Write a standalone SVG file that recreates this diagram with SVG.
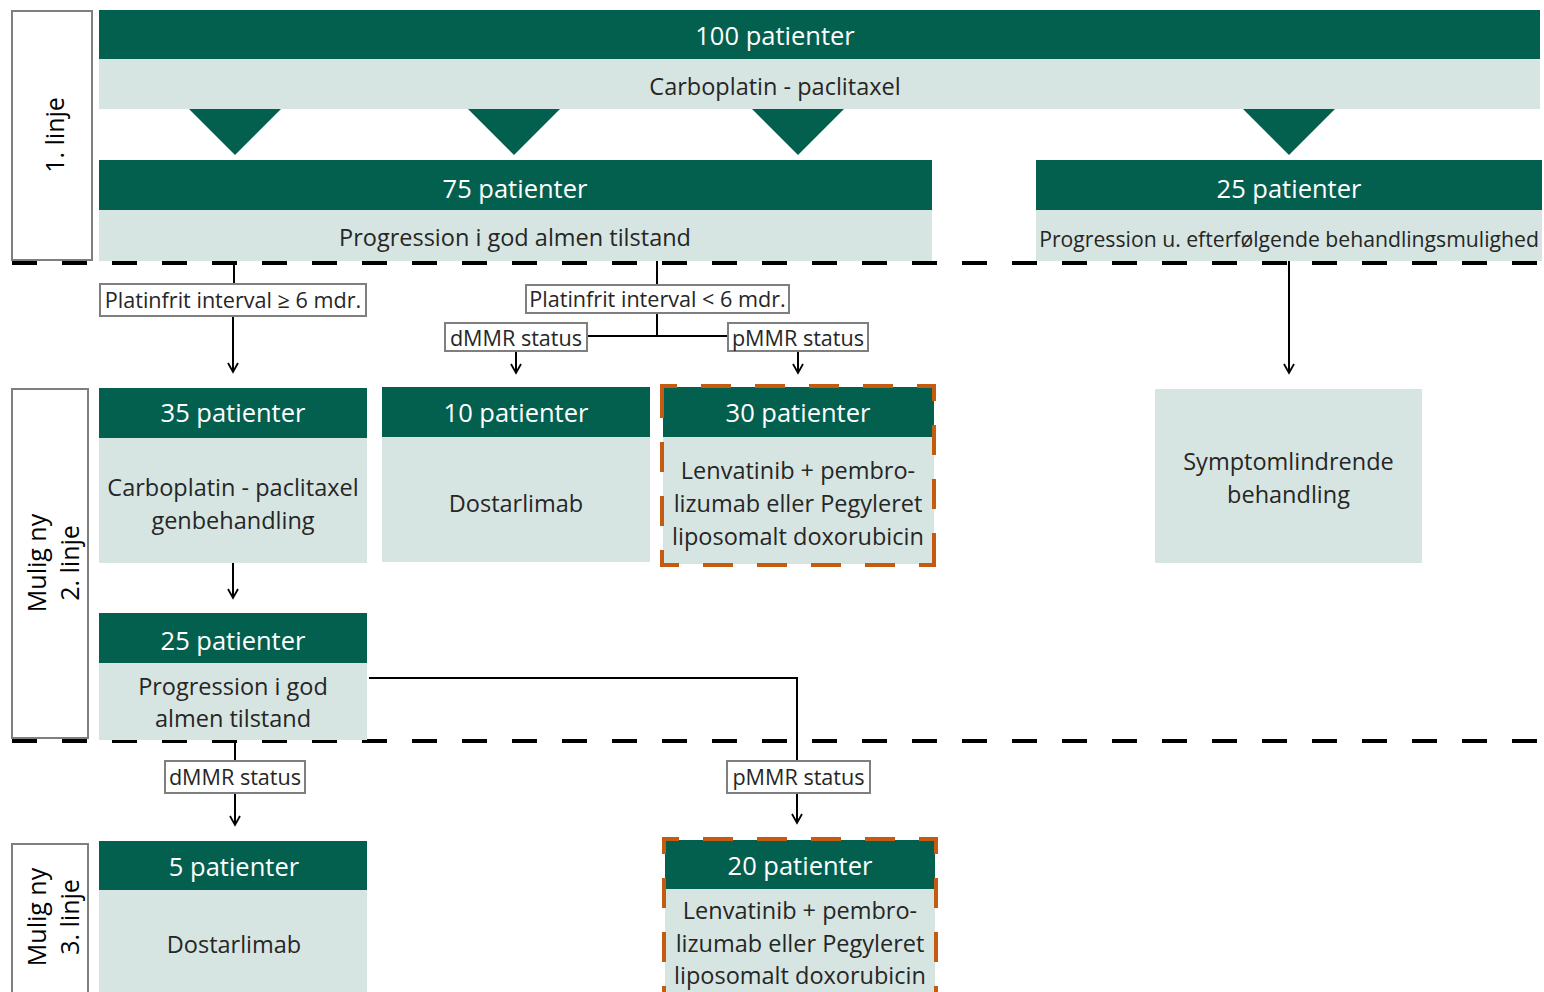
<svg xmlns="http://www.w3.org/2000/svg" width="1544" height="992" viewBox="0 0 1544 992">
<defs>
<style>
.dk{fill:#03604F}
.lt{fill:#D6E5E1}
.hd{font-family:"Open Sans","Noto Sans",sans-serif;font-size:25.5px;fill:#FFFFFF;text-anchor:middle}
.bd{font-family:"Open Sans","Noto Sans",sans-serif;font-size:23.5px;fill:#262626;text-anchor:middle}
.lb{font-family:"Open Sans","Noto Sans",sans-serif;font-size:21.6px;fill:#262626;text-anchor:middle}
.side{font-family:"Open Sans","Noto Sans",sans-serif;font-size:25px;fill:#000000;text-anchor:middle}
.sbox{fill:#FFFFFF;stroke:#7F7F7F;stroke-width:2}
.lbox{fill:#FFFFFF;stroke:#7F7F7F;stroke-width:2}
.ln{fill:none;stroke:#000000;stroke-width:2}
.arr{fill:none;stroke:#000000;stroke-width:2;marker-end:url(#ah)}
.sep{fill:none;stroke:#000000;stroke-width:4;stroke-dasharray:25 25}
.hl{fill:none;stroke:#C55A11;stroke-width:4;stroke-dasharray:26 28;stroke-dashoffset:13;stroke-linecap:square}
</style>
<marker id="ah" markerUnits="userSpaceOnUse" viewBox="-12 -7 14 14" refX="0" refY="0" markerWidth="14" markerHeight="14" orient="auto" overflow="visible">
<path d="M-9,-5 L0,0 L-9,5" fill="none" stroke="#000000" stroke-width="1.8"/>
</marker>
</defs>
<rect width="1544" height="992" fill="#FFFFFF"/>

<g id="side-1">
<rect class="sbox" x="12" y="11" width="80" height="249"/>
<text class="side" transform="translate(64,135) rotate(-90)">1. linje</text>
</g>
<g id="side-2">
<rect class="sbox" x="12" y="389" width="76" height="349"/>
<text class="side" transform="translate(46,563) rotate(-90)">Mulig ny</text>
<text class="side" transform="translate(79,563) rotate(-90)">2. linje</text>
</g>
<g id="side-3">
<rect class="sbox" x="12" y="844" width="76" height="160"/>
<text class="side" transform="translate(46,917) rotate(-90)">Mulig ny</text>
<text class="side" transform="translate(79,917) rotate(-90)">3. linje</text>
</g>

<g id="separators">
<line class="sep" x1="12" y1="263" x2="1544" y2="263"/>
<line class="sep" x1="12" y1="741" x2="1544" y2="741"/>
</g>

<g id="n100">
<rect class="dk" x="99" y="10" width="1441" height="49"/>
<rect class="lt" x="99" y="59" width="1441" height="50"/>
<text class="hd" x="775" y="45">100 patienter</text>
<text class="bd" x="775" y="94.5">Carboplatin - paclitaxel</text>
</g>

<g id="splits">
<polygon class="dk" points="189,109 281,109 235,155"/>
<polygon class="dk" points="468,109 560,109 514,155"/>
<polygon class="dk" points="752,109 844,109 798,155"/>
<polygon class="dk" points="1243,109 1335,109 1289,155"/>
</g>

<g id="n75">
<rect class="dk" x="99" y="160" width="833" height="50"/>
<rect class="lt" x="99" y="210" width="833" height="51"/>
<text class="hd" x="515" y="198">75 patienter</text>
<text class="bd" x="515" y="245.5">Progression i god almen tilstand</text>
</g>

<g id="n25a">
<rect class="dk" x="1036" y="160" width="506" height="50"/>
<rect class="lt" x="1036" y="210" width="506" height="51"/>
<text class="hd" x="1289" y="198">25 patienter</text>
<text class="bd" x="1289" y="246.5" style="font-size:21.2px">Progression u. efterfølgende behandlingsmulighed</text>
</g>

<g id="connectors">
<line class="ln" x1="234" y1="261" x2="234" y2="284"/>
<line class="arr" x1="233" y1="316" x2="233" y2="372"/>
<line class="ln" x1="657" y1="261" x2="657" y2="285"/>
<line class="ln" x1="657" y1="313" x2="657" y2="336"/>
<line class="ln" x1="587" y1="336" x2="728" y2="336"/>
<line class="arr" x1="516" y1="351" x2="516" y2="373"/>
<line class="arr" x1="798" y1="351" x2="798" y2="373"/>
<line class="arr" x1="1289" y1="261" x2="1289" y2="373"/>
<line class="arr" x1="233" y1="563" x2="233" y2="598"/>
<polyline class="ln" points="369,678 797,678 797,761"/>
<line class="arr" x1="797" y1="793" x2="797" y2="823"/>
<line class="ln" x1="235" y1="740" x2="235" y2="761"/>
<line class="arr" x1="235" y1="793" x2="235" y2="825"/>
</g>

<g id="labels">
<g id="lbl-ge6"><rect class="lbox" x="100" y="284" width="266" height="32"/><text class="lb" x="233" y="308">Platinfrit interval ≥ 6 mdr.</text></g>
<g id="lbl-lt6"><rect class="lbox" x="526" y="285" width="263" height="28"/><text class="lb" x="657.5" y="307">Platinfrit interval &lt; 6 mdr.</text></g>
<g id="lbl-dmmr1"><rect class="lbox" x="445" y="323" width="142" height="28"/><text class="lb" x="516" y="345.5">dMMR status</text></g>
<g id="lbl-pmmr1"><rect class="lbox" x="728" y="323" width="140" height="28"/><text class="lb" x="798" y="345.5">pMMR status</text></g>
<g id="lbl-dmmr2"><rect class="lbox" x="165" y="761" width="140" height="32"/><text class="lb" x="235" y="785">dMMR status</text></g>
<g id="lbl-pmmr2"><rect class="lbox" x="727" y="761" width="143" height="32"/><text class="lb" x="798.5" y="785">pMMR status</text></g>
</g>

<g id="n35">
<rect class="dk" x="99" y="388" width="268" height="50"/>
<rect class="lt" x="99" y="438" width="268" height="125"/>
<text class="hd" x="233" y="422">35 patienter</text>
<text class="bd" x="233" y="495.5">Carboplatin - paclitaxel</text>
<text class="bd" x="233" y="528.5">genbehandling</text>
</g>

<g id="n10">
<rect class="dk" x="382" y="387" width="268" height="50"/>
<rect class="lt" x="382" y="437" width="268" height="125"/>
<text class="hd" x="516" y="422">10 patienter</text>
<text class="bd" x="516" y="511.5">Dostarlimab</text>
</g>

<g id="n30">
<rect class="dk" x="663" y="387" width="271" height="50"/>
<rect class="lt" x="663" y="437" width="271" height="127"/>
<text class="hd" x="798" y="422">30 patienter</text>
<text class="bd" x="798" y="478.5">Lenvatinib + pembro-</text>
<text class="bd" x="798" y="511.5">lizumab eller Pegyleret</text>
<text class="bd" x="798" y="544.5">liposomalt doxorubicin</text>
<path class="hl" d="M662,386 H934 M934,386 V565 M934,565 H662 M662,565 V386"/>
</g>

<g id="nsymp">
<rect class="lt" x="1155" y="389" width="267" height="174"/>
<text class="bd" x="1288.5" y="469.5">Symptomlindrende</text>
<text class="bd" x="1288.5" y="502.5">behandling</text>
</g>

<g id="n25b">
<rect class="dk" x="99" y="613" width="268" height="50"/>
<rect class="lt" x="99" y="663" width="268" height="77"/>
<text class="hd" x="233" y="650">25 patienter</text>
<text class="bd" x="233" y="694.5">Progression i god</text>
<text class="bd" x="233" y="726.5">almen tilstand</text>
</g>

<g id="n5">
<rect class="dk" x="99" y="841" width="268" height="49"/>
<rect class="lt" x="99" y="890" width="268" height="110"/>
<text class="hd" x="234" y="876">5 patienter</text>
<text class="bd" x="234" y="952.5">Dostarlimab</text>
</g>

<g id="n20">
<rect class="dk" x="665" y="840" width="270" height="49"/>
<rect class="lt" x="665" y="889" width="270" height="110"/>
<text class="hd" x="800" y="875">20 patienter</text>
<text class="bd" x="800" y="918.5">Lenvatinib + pembro-</text>
<text class="bd" x="800" y="951.5">lizumab eller Pegyleret</text>
<text class="bd" x="800" y="983.5">liposomalt doxorubicin</text>
<path class="hl" d="M664,839 H936 M936,839 V1009 M664,839 V1009"/>
</g>
</svg>
